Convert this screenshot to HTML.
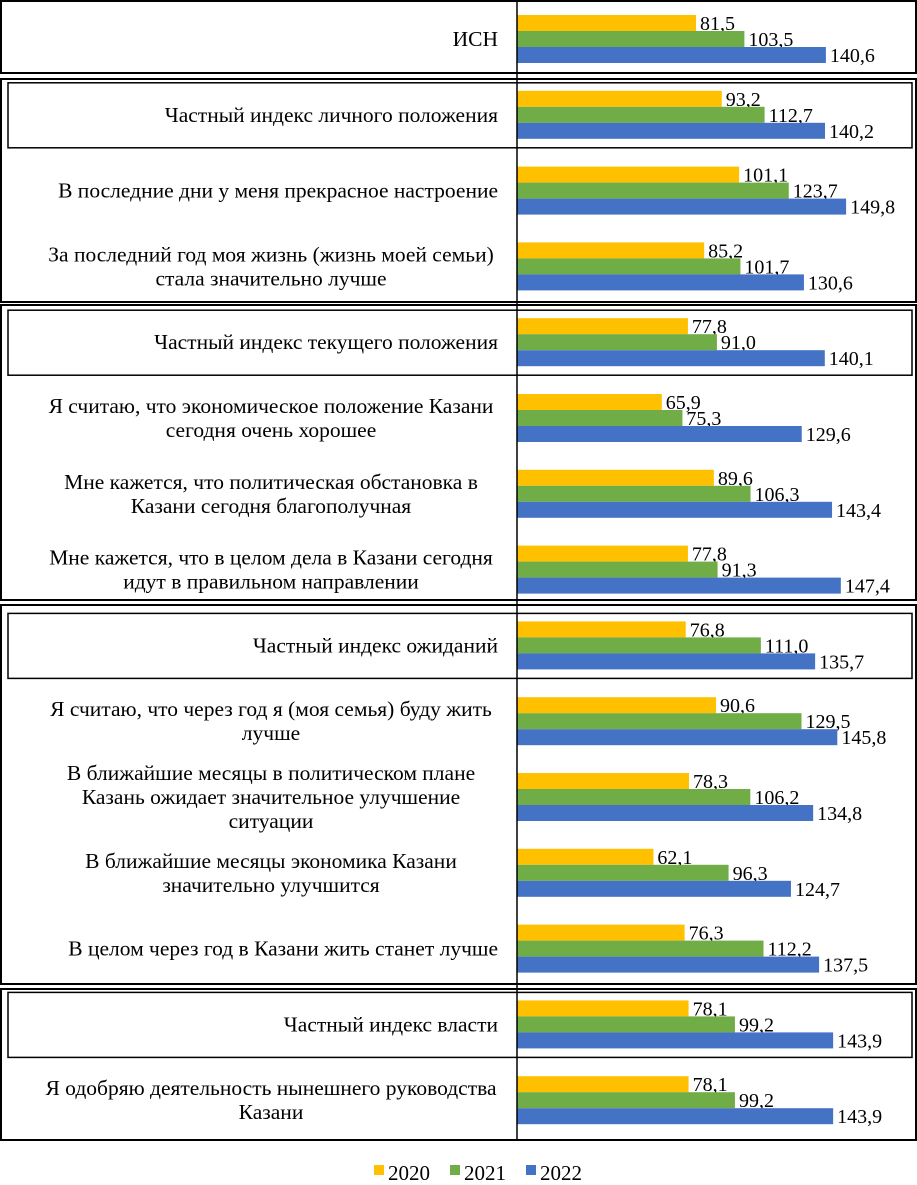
<!DOCTYPE html>
<html><head><meta charset="utf-8"><style>
body{margin:0;background:#fff;}
svg text{font-family:"Liberation Serif",serif;}
</style></head><body>
<svg id="c" width="917" height="1180" xmlns="http://www.w3.org/2000/svg"></svg>
<script>
const categories=[["ИСН"],["Частный индекс личного положения"],["В последние дни у меня прекрасное настроение"],["За последний год моя жизнь (жизнь моей семьи)","стала значительно лучше"],["Частный индекс текущего положения"],["Я считаю, что экономическое положение Казани","сегодня очень хорошее"],["Мне кажется, что политическая обстановка в","Казани сегодня благополучная"],["Мне кажется, что в целом дела в Казани сегодня","идут в правильном направлении"],["Частный индекс ожиданий"],["Я считаю, что через год я (моя семья) буду жить","лучше"],["В ближайшие месяцы в политическом плане","Казань ожидает значительное улучшение","ситуации"],["В ближайшие месяцы экономика Казани","значительно улучшится"],["В целом через год в Казани жить станет лучше"],["Частный индекс власти"],["Я одобряю деятельность нынешнего руководства","Казани"]];
const s2020=[81.5,93.2,101.1,85.2,77.8,65.9,89.6,77.8,76.8,90.6,78.3,62.1,76.3,78.1,78.1];
const s2021=[103.5,112.7,123.7,101.7,91.0,75.3,106.3,91.3,111.0,129.5,106.2,96.3,112.2,99.2,99.2];
const s2022=[140.6,140.2,149.8,130.6,140.1,129.6,143.4,147.4,135.7,145.8,134.8,124.7,137.5,143.9,143.9];
const years=["2020","2021","2022"];
const colors=["#FFC000","#70AD47","#4472C4"];
const NS="http://www.w3.org/2000/svg";
const svg=document.getElementById('c');
const x0=517,k=2.197,rowTop=15,pitch=75.8,bh=16;
const xs=v=>x0+v*k;
const ys=i=>rowTop+i*pitch;
function el(t,a){const e=document.createElementNS(NS,t);for(const n in a)e.setAttribute(n,a[n]);svg.appendChild(e);return e;}
const outer=[[0,73],[78,302],[304,600],[604,984],[988,1140]];
outer.forEach(o=>{const r=el('rect',{x:1,y:o[0]+1,width:915,height:o[1]-o[0]-1,fill:'none',stroke:'#000','stroke-width':2});

});
[1,4,8,13].forEach(i=>{const t=ys(i);const r=el('rect',{x:8,y:t-8,width:904,height:bh*3+17,fill:'none',stroke:'#000','stroke-width':1.5});

});
const series=[s2020,s2021,s2022];
categories.forEach((lines,i)=>{
  const t=ys(i);
  series.forEach((s,j)=>{
    const y=t+j*bh;
    const r=el('rect',{x:x0,y:y,width:xs(s[i])-x0,height:bh,fill:colors[j]});
    
    
    const tx=el('text',{x:xs(s[i])+4,y:y+bh-1,'font-size':20,fill:'#000'});
    tx.textContent=s[i].toFixed(1).replace('.',',');
    
    
  });
  const cy=t+24,lh=24,n=lines.length;
  lines.forEach((l,m)=>{
    const tx=el('text',{x:n>1?271:498,y:cy+(m-(n-1)/2)*lh+7,'font-size':21.5,'text-anchor':n>1?'middle':'end',fill:'#000'});
    tx.textContent=l;
    
    
  });
});
const ax=el('line',{x1:x0,y1:0,x2:x0,y2:1140,stroke:'#000','stroke-width':1.5});


years.forEach((yv,j)=>{
  const lx=374+j*76;
  const r=el('rect',{x:lx,y:1165,width:10,height:10,fill:colors[j]});
  
  
  const tx=el('text',{x:lx+14,y:1180,'font-size':21});
  tx.textContent=yv;
  
  
});
</script>
</body></html>
